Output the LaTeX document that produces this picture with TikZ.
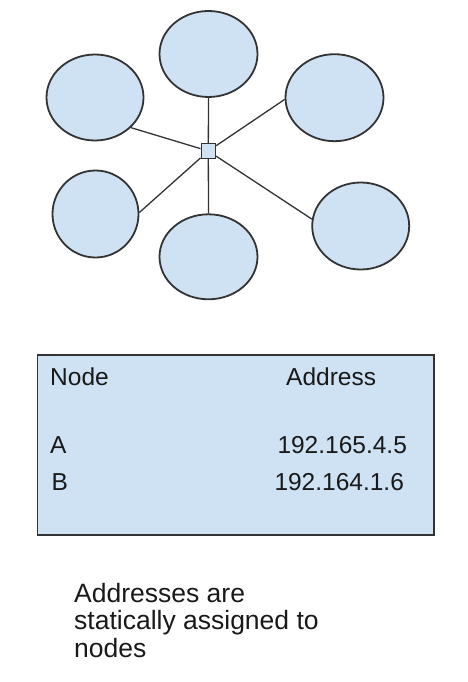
\documentclass[tikz,border=0pt]{standalone}
\usepackage{fontspec}
\setmainfont{Liberation Sans}
\usetikzlibrary{shapes.geometric}
\definecolor{lightblue}{HTML}{CFE2F3}
\definecolor{rim}{HTML}{333333}
\tikzset{
  host/.style={ellipse,draw=rim,fill=lightblue,line width=1.8pt,inner sep=0pt},
  hub/.style={rectangle,draw=rim,fill=lightblue,line width=1.1pt,minimum size=14.5pt,inner sep=0pt},
  tabletext/.style={anchor=base west,inner sep=0pt,text=black!90,font=\fontsize{24.5}{28}\selectfont},
}
\begin{document}
\begin{tikzpicture}[x=1pt,y=-1pt]
      \useasboundingbox (0,0) rectangle (467,682);
      \draw
        (208.3,151) node[hub] (h){}
        (208.5,54) node[host,minimum width=98pt,minimum height=86pt] (0){}
        (334.5,97.7) node[host,minimum width=98pt,minimum height=87pt] (1){}
        (360.7,226) node[host,minimum width=97pt,minimum height=87pt] (2){}
        (208.5,256.8) node[host,minimum width=98pt,minimum height=85pt] (3){}
        (95.5,214) node[host,minimum width=86pt,minimum height=87pt] (4){}
        (95,97.5) node[host,minimum width=97pt,minimum height=86pt] (5){};
      \begin{scope}[-,draw=rim,line width=1.3pt]
        \draw (0.south) to (h);
        \draw (1.182) to (h);
        \draw (2.172) to (h);
        \draw (3.north) to (h);
        \draw (4.2) to (h);
        \draw (5.-40) to (h);
      \end{scope}
      % address table
      \draw[draw=rim,fill=lightblue,line width=1.3pt] (37.3,355) rectangle (434,535);
      \node[tabletext] (colnode) at (50,385) {Node};
      \node[tabletext] (coladdr) at (286,385) {Address};
      \node[tabletext] (na) at (50,453.3) {A};
      \node[tabletext] (aa) at (277.3,453.3) {192.165.4.5};
      \node[tabletext] (nb) at (51.5,490) {B};
      \node[tabletext] (ab) at (274.3,490) {192.164.1.6};
      \node[anchor=base west,inner sep=0pt,align=left,text=black!90,
        font=\fontsize{26.5}{27.6}\selectfont] (note) at (74,657.3)
        {Addresses are\\statically assigned to\\nodes};
    \end{tikzpicture}
\end{document}
